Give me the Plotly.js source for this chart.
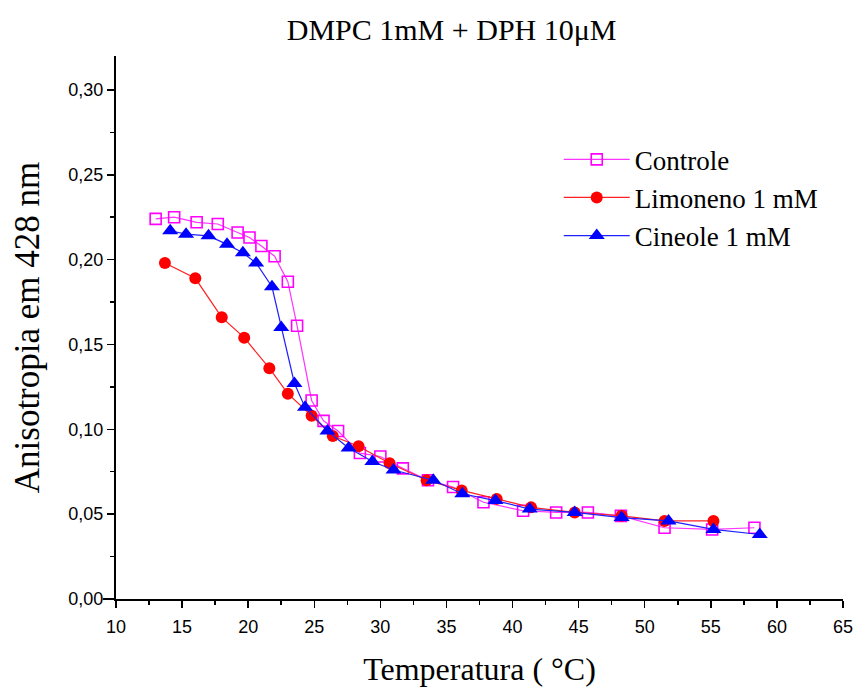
<!DOCTYPE html>
<html>
<head>
<meta charset="utf-8">
<script src="https://cdn.plot.ly/plotly-3.0.1.min.js"></script>
<style>html,body{margin:0;padding:0;background:#fff;}#chart{width:857px;height:690px;}</style>
</head>
<body>
<div id="chart"></div>
<script>
// Controle (open magenta squares)
const controleT = [13.0, 14.4, 16.1, 17.7, 19.2, 20.1, 21.0, 22.0, 23.0, 23.7, 24.8, 25.7, 26.8, 28.45, 30.0, 31.7, 33.6, 35.5, 37.8, 40.8, 43.3, 45.7, 48.2, 51.5, 55.1, 58.3];
const controleA = [0.224, 0.225, 0.222, 0.221, 0.216, 0.213, 0.208, 0.202, 0.187, 0.161, 0.117, 0.105, 0.099, 0.086, 0.084, 0.077, 0.070, 0.066, 0.057, 0.052, 0.051, 0.051, 0.049, 0.042, 0.041, 0.042];
// Limoneno 1 mM (red filled circles)
const limonenoT = [13.7, 16.0, 18.0, 19.7, 21.6, 23.0, 24.8, 26.4, 28.35, 30.7, 33.5, 36.15, 38.8, 41.4, 44.7, 48.25, 51.5, 55.2];
const limonenoA = [0.198, 0.189, 0.166, 0.154, 0.136, 0.121, 0.108, 0.096, 0.090, 0.080, 0.070, 0.064, 0.059, 0.054, 0.051, 0.049, 0.046, 0.046];
// Cineole 1 mM (blue filled triangles)
const cineoleT = [14.1, 15.3, 17.0, 18.4, 19.6, 20.6, 21.8, 22.5, 23.5, 24.3, 26.0, 27.6, 29.4, 31.0, 34.0, 36.2, 38.7, 41.3, 44.7, 48.25, 51.8, 55.2, 58.7];
const cineoleA = [0.217, 0.215, 0.214, 0.209, 0.204, 0.198, 0.184, 0.160, 0.127, 0.113, 0.099, 0.089, 0.081, 0.076, 0.070, 0.062, 0.058, 0.053, 0.051, 0.048, 0.046, 0.041, 0.038];

const seriesNames = ["Controle", "Limoneno 1 mM", "Cineole 1 mM"];
const xTickVals = [10, 15, 20, 25, 30, 35, 40, 45, 50, 55, 60, 65];
const yTickVals = [0, 0.05, 0.10, 0.15, 0.20, 0.25, 0.30];

const traces = [
  {x: controleT, y: controleA, name: seriesNames[0], type: "scatter", mode: "lines+markers",
   line: {color: "#FF33FF", width: 1.2},
   marker: {symbol: "square-open", size: 11, color: "#FF00FF", line: {width: 1.6, color: "#FF00FF"}}},
  {x: limonenoT, y: limonenoA, name: seriesNames[1], type: "scatter", mode: "lines+markers",
   line: {color: "#FF2020", width: 1.2},
   marker: {symbol: "circle", size: 12, color: "#FF0000"}},
  {x: cineoleT, y: cineoleA, name: seriesNames[2], type: "scatter", mode: "lines+markers",
   line: {color: "#2020FF", width: 1.2},
   marker: {symbol: "triangle-up", size: 14, color: "#0000FF"}}
];

const serif = "Liberation Serif, Times New Roman, serif";
const sans = "Liberation Sans, Arial, sans-serif";

const layout = {
  width: 857, height: 690,
  margin: {l: 116, r: 14, t: 56, b: 91},
  paper_bgcolor: "#fff", plot_bgcolor: "#fff",
  separators: ", ",
  showlegend: true,
  title: {text: "DMPC 1mM + DPH 10μM", font: {family: serif, size: 30, color: "#000"}, x: 0.527, xanchor: "center", y: 0.957, yanchor: "middle"},
  xaxis: {
    range: [10, 65], tickvals: xTickVals, ticks: "outside", ticklen: 7, tickwidth: 1.5, tickcolor: "#000",
    showline: true, linecolor: "#000", linewidth: 2, showgrid: false, zeroline: false,
    minor: {dtick: 2.5, tick0: 10, ticks: "outside", ticklen: 4, tickwidth: 1.5, tickcolor: "#000", showgrid: false},
    tickfont: {family: sans, size: 18, color: "#000"}, ticklabelstandoff: 3,
    title: {text: "Temperatura ( °C)", font: {family: serif, size: 32, color: "#000"}, standoff: 22}
  },
  yaxis: {
    range: [0, 0.32], tickvals: yTickVals, tickformat: ".2f", ticks: "outside", ticklen: 7, tickwidth: 1.5, tickcolor: "#000",
    showline: true, linecolor: "#000", linewidth: 2, showgrid: false, zeroline: false,
    minor: {dtick: 0.025, tick0: 0, ticks: "outside", ticklen: 4, tickwidth: 1.5, tickcolor: "#000", showgrid: false},
    tickfont: {family: sans, size: 18, color: "#000"},
    title: {text: "Anisotropia em 428 nm", font: {family: serif, size: 35, color: "#000"}, standoff: 18}
  },
  legend: {x: 0.609, y: 0.854, xanchor: "left", yanchor: "top", bgcolor: "rgba(0,0,0,0)",
    font: {family: serif, size: 27, color: "#000"}, itemwidth: 66, tracegroupgap: 0},
  shapes: [{type: "line", xref: "paper", yref: "paper", x0: -0.018, x1: 0, y0: 0, y1: 0, line: {color: "#000", width: 2}}]
};

Plotly.newPlot("chart", traces, layout, {displayModeBar: false, staticPlot: true});
</script>
</body>
</html>
